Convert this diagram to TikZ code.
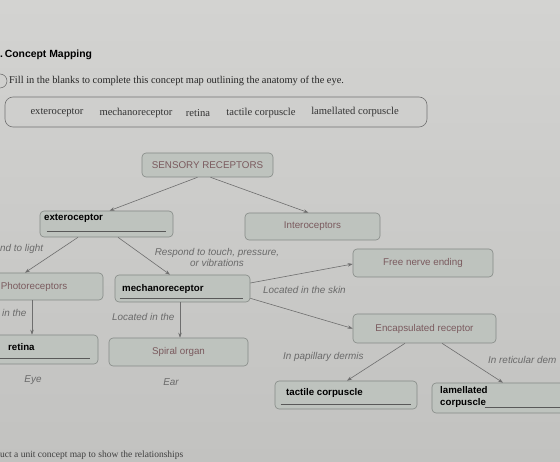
\documentclass[tikz,border=0pt]{standalone}
\usepackage{fontspec}
\setmainfont{Liberation Serif}
\setsansfont{Liberation Sans}
\usetikzlibrary{arrows.meta,calc}
\definecolor{pagetop}{HTML}{D3D3D1}
\definecolor{pagebot}{HTML}{C2C2C0}
\definecolor{boxfill}{HTML}{BEC3BE}
\definecolor{boxline}{HTML}{858A86}
\definecolor{boxtext}{HTML}{7A5A5E}
\definecolor{labgray}{HTML}{6A6A6A}
\definecolor{arrgray}{HTML}{6E6E6E}
\begin{document}
\begin{tikzpicture}[x=1pt,y=-1pt,
  box/.style={draw=boxline, fill=boxfill, rounded corners=4pt, line width=0.6pt, inner sep=0pt},
  boxtxt/.style={font=\sffamily\fontsize{9.8}{11}\selectfont, text=boxtext},
  ans/.style={font=\sffamily\bfseries\fontsize{9.7}{11}\selectfont, text=black, anchor=base west, inner sep=0pt},
  lab/.style={font=\sffamily\itshape\fontsize{9.9}{10.5}\selectfont, text=labgray, inner sep=0pt, align=center},
  arr/.style={draw=arrgray, line width=0.6pt, -{Stealth[length=5pt,width=3.5pt]}},
  uline/.style={draw=black!65, line width=0.5pt},
  bank/.style={font=\fontsize{10.6}{12}\selectfont, text=black!80, inner sep=0pt}]
\useasboundingbox (0,0) rectangle (560,462);
\clip (0,0) rectangle (560,462);
\shade[top color=pagetop, bottom color=pagebot] (0,0) rectangle (560,462);

% header
\node[font=\sffamily\bfseries\fontsize{10.4}{12}\selectfont, anchor=west, inner sep=0pt] (title) at (0,55) {.\,Concept Mapping};
\draw[black!60, line width=0.5pt] (0,81) circle (7);
\node[font=\fontsize{10.4}{12}\selectfont, anchor=west, inner sep=0pt, text=black!85] (instr) at (9,81) {Fill in the blanks to complete this concept map outlining the anatomy of the eye.};

% word bank
\node[draw=black!55, rounded corners=8pt, line width=0.6pt, minimum width=422pt, minimum height=30pt, inner sep=0pt] (wb) at (216,112) {};
\node[bank] (w1) at (57,113) {exteroceptor};
\node[bank] (w2) at (136,113) {mechanoreceptor};
\node[bank] (w3) at (198,113) {retina};
\node[bank] (w4) at (261,113) {tactile corpuscle};
\node[bank] (w5) at (355,112) {lamellated corpuscle};

% boxes
\node[box, boxtxt, minimum width=131pt, minimum height=24pt] (sr) at (207.5,165) {SENSORY RECEPTORS};
\node[box, minimum width=133pt, minimum height=26pt] (ext) at (106.5,224) {};
\node[box, boxtxt, minimum width=135pt, minimum height=27pt] (int) at (312.5,226.5) {Interoceptors};
\node[box, boxtxt, minimum width=138pt, minimum height=27pt] (photo) at (34,286.5) {Photoreceptors};
\node[box, minimum width=135pt, minimum height=27pt] (mech) at (182.5,288.5) {};
\node[box, boxtxt, minimum width=140pt, minimum height=28pt] (free) at (423,263) {Free nerve ending};
\node[box, boxtxt, minimum width=143pt, minimum height=29pt] (enc) at (424.5,328.5) {Encapsulated receptor};
\node[box, minimum width=128pt, minimum height=29pt] (ret) at (34,349.5) {};
\node[box, boxtxt, minimum width=139pt, minimum height=28pt] (spiral) at (178.5,352) {Spiral organ};
\node[box, minimum width=142pt, minimum height=28pt] (tact) at (346,395) {};
\node[box, minimum width=168pt, minimum height=30pt] (lam) at (516,398) {};

% filled-in answers
\node[ans] (extt) at (44,221) {exteroceptor};
\draw[uline] ($(ext.south west)+(7,-6)$) -- ($(ext.south east)+(-7,-6)$);
\node[ans] (mecht) at (122,292) {mechanoreceptor};
\draw[uline] ($(mech.south west)+(5,-4)$) -- ($(mech.south east)+(-7,-4)$);
\node[ans] (rett) at (8,351) {retina};
\draw[uline] ($(ret.south west)+(30,-6)$) -- ($(ret.south east)+(-8,-6)$);
\node[ans] (tactt) at (286,396) {tactile corpuscle};
\draw[uline] ($(tact.south west)+(6,-5)$) -- ($(tact.south east)+(-6,-5)$);
\node[ans, align=left, anchor=north west, font=\sffamily\bfseries\fontsize{9.7}{12}\selectfont] (lamt) at (440,386) {lamellated\\corpuscle};
\draw[uline] ($(lam.south west)+(53,-6)$) -- ($(lam.south east)+(0,-6)$);

% connectors
\draw[arr] ([xshift=-10pt]sr.south) -- ([xshift=3pt]ext.north);
\draw[arr] ([xshift=3pt]sr.south) -- ([xshift=-4pt]int.north);
\draw[arr] ([xshift=-28.5pt]ext.south) -- ([xshift=-9pt]photo.north);
\draw[arr] ([xshift=11.5pt]ext.south) -- ([xshift=-12.5pt]mech.north);
\draw[arr] ([yshift=5.5pt]mech.east) -- ([yshift=-1pt]free.west);
\draw[arr] ([yshift=4pt]mech.south east) -- (enc.west);
\draw[arr] ([xshift=-2pt]photo.south) -- ([xshift=-2pt]ret.north);
\draw[arr] ([xshift=-2.5pt]mech.south) -- ([xshift=1.5pt]spiral.north);
\draw[arr] ([xshift=-19.5pt]enc.south) -- ([xshift=1pt]tact.north);
\draw[arr] ([xshift=17.5pt]enc.south) -- ([xshift=-13pt]lam.north);

% link labels
\node[lab, anchor=west] (l1) at (0,249) {nd to light};
\node[lab] (l2) at (217,257.5) {Respond to touch, pressure,\\or vibrations};
\node[lab, anchor=west] (l3) at (263,290) {Located in the skin};
\node[lab, anchor=west] (l4) at (2,313) {in the};
\node[lab, anchor=west] (l5) at (112,317) {Located in the};
\node[lab] (l6) at (33,380) {Eye};
\node[lab] (l7) at (171,382) {Ear};
\node[lab, anchor=west] (l8) at (283,357) {In papillary dermis};
\node[lab, anchor=west] (l9) at (488,360) {In reticular dem};

% partial line at the bottom
\node[font=\fontsize{9.5}{11}\selectfont, anchor=base west, inner sep=0pt, text=black!75] (bot) at (0,457.5) {uct a unit concept map to show the relationships};
\end{tikzpicture}
\end{document}
